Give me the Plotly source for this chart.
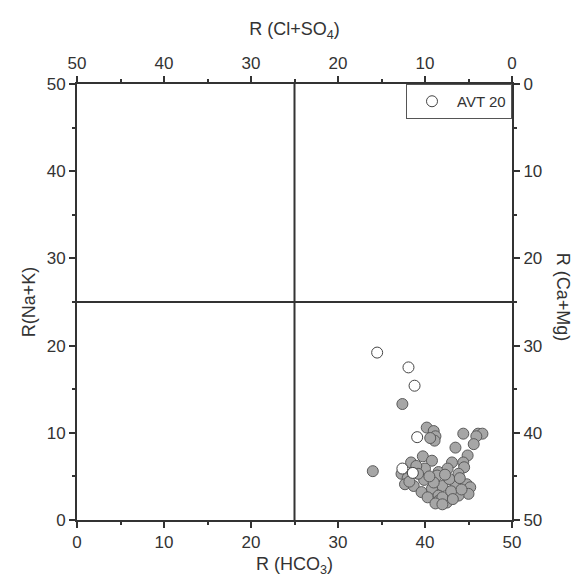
import plotly.graph_objects as go

# AVT 20 samples (open circles)
avt_hco3 = [34.5, 38.1, 38.8, 39.1, 37.4, 38.6]
avt_nak = [19.2, 17.5, 15.4, 9.5, 5.9, 5.4]

# Other samples (grey circles)
oth_hco3 = [37.4, 34.0,
            40.2, 41.0, 41.2, 41.1, 40.6, 44.4, 46.1, 46.6, 45.9, 45.6, 43.5, 44.9, 44.4,
            39.75, 38.4, 40.8, 43.1, 44.5, 43.85, 40.0, 41.55, 42.6, 39.0, 37.3, 38.0,
            37.7, 38.7, 39.9, 41.4, 42.0, 43.5, 44.8, 45.2, 45.0, 39.6, 40.8, 41.55,
            41.55, 42.5, 42.0, 43.85, 42.8, 41.0, 39.2, 43.0, 44.2, 40.3, 38.2, 42.3,
            44.0, 40.5, 43.2, 41.2, 42.0]
oth_nak = [13.3, 5.6,
           10.6, 10.2, 9.6, 9.1, 9.4, 9.9, 9.9, 9.9, 9.6, 8.7, 8.3, 7.4, 6.6,
           7.3, 6.6, 6.8, 6.6, 6.05, 5.3, 5.9, 5.5, 5.9, 6.2, 5.3, 4.8,
           4.1, 3.9, 4.6, 5.1, 3.9, 4.1, 4.1, 3.75, 3.0, 3.2, 3.6, 2.8,
           2.2, 2.0, 2.6, 2.8, 4.7, 4.3, 5.3, 3.3, 3.5, 2.6, 4.4, 5.2,
           4.8, 5.0, 2.4, 1.9, 1.8]

major_ticks = [0, 10, 20, 30, 40, 50]
minor_ticks = [5, 15, 25, 35, 45]

FONT = "Liberation Sans, Arial, sans-serif"
INK = "#333333"

fig = go.Figure()
fig.add_trace(go.Scatter(
    x=oth_hco3, y=oth_nak, mode="markers", showlegend=False,
    marker=dict(size=11, color="#a6a6a6", line=dict(color="#5a5a5a", width=1)),
))
fig.add_trace(go.Scatter(
    x=avt_hco3, y=avt_nak, mode="markers", name="AVT 20",
    marker=dict(size=11, color="white", line=dict(color="#444444", width=1)),
))
# invisible trace so the secondary (top/right) axes get drawn
fig.add_trace(go.Scatter(x=[0], y=[0], xaxis="x2", yaxis="y2", mode="markers",
                         marker=dict(opacity=0), showlegend=False, hoverinfo="skip"))

# quadrant dividers
fig.add_shape(type="line", x0=25, x1=25, y0=0, y1=50, xref="x", yref="y",
              line=dict(color=INK, width=2))
fig.add_shape(type="line", x0=0, x1=50, y0=25, y1=25, xref="x", yref="y",
              line=dict(color=INK, width=2))

axis_common = dict(
    showgrid=False, zeroline=False, showline=True, linecolor=INK, linewidth=2,
    ticks="outside", ticklen=6, tickwidth=1.5, tickcolor=INK,
    tickfont=dict(family=FONT, size=17, color=INK),
    tickvals=major_ticks,
    minor=dict(tickvals=minor_ticks, ticks="outside", ticklen=3, tickwidth=1.5, tickcolor=INK),
)

fig.update_layout(
    width=581, height=582,
    margin=dict(l=77, r=69, t=84, b=62),
    paper_bgcolor="white", plot_bgcolor="white",
    font=dict(family=FONT, color=INK),
    xaxis=dict(range=[0, 50], side="bottom",
               title=dict(text="R (HCO<sub>3</sub>)", font=dict(size=18), standoff=6),
               **axis_common),
    yaxis=dict(range=[0, 50], side="left",
               title=dict(text="R(Na+K)", font=dict(size=18), standoff=6),
               **axis_common),
    xaxis2=dict(range=[50, 0], side="top", overlaying="x",
                title=dict(text="R (Cl+SO<sub>4</sub>)", font=dict(size=18), standoff=14),
                **axis_common),
    yaxis2=dict(range=[50, 0], side="right", overlaying="y", **axis_common),
    legend=dict(x=1, y=1, xanchor="right", yanchor="top", itemwidth=40,
                bgcolor="white", bordercolor="#555555", borderwidth=1,
                font=dict(family=FONT, size=15, color=INK)),
    annotations=[dict(text="R (Ca+Mg)", textangle=90, xref="paper", yref="paper",
                      x=1.117, y=0.51, xanchor="center", yanchor="middle", showarrow=False,
                      font=dict(family=FONT, size=18, color=INK))],
)

fig.write_html("out.html")
